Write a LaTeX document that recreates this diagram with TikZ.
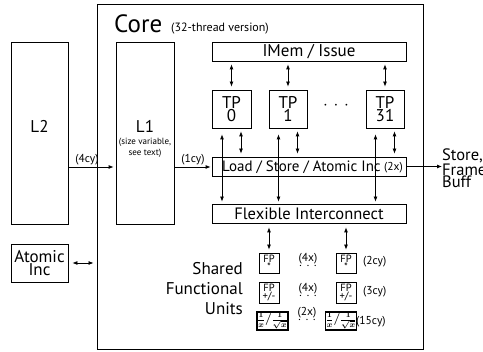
\documentclass[tikz,border=0pt]{standalone}
\usepackage{amsmath}
\usepackage{fontspec}
\setmainfont{PT Sans}
\usetikzlibrary{arrows.meta,calc}
\newcommand\fsL{\fontsize{17}{13}\selectfont}
\newcommand\fsC{\fontsize{25}{25}\selectfont}
\newcommand\fsM{\fontsize{11.5}{12}\selectfont}
\newcommand\fsS{\fontsize{9}{10.5}\selectfont}
\newcommand\fsF{\fontsize{10.5}{8}\selectfont}
\newcommand\fsX{\fontsize{11.5}{5.5}\selectfont}
\begin{document}
\begin{tikzpicture}[x=1pt,y=-1pt,
  blk/.style={draw, line width=0.8pt, inner sep=0pt},
  lbl/.style={inner sep=0pt},
  arr/.style={-{Latex[length=5pt,width=4pt]}, line width=0.8pt},
  darr/.style={{Latex[length=5pt,width=4pt]}-{Latex[length=5pt,width=4pt]}, line width=0.8pt},
  fpbox/.style={blk, minimum width=20pt, minimum height=20pt, align=center, font=\fsF},
  rcpbox/.style={draw, line width=1.4pt, inner sep=0pt, minimum width=29pt, minimum height=18pt, font=\fontsize{12}{12}\selectfont}]
\useasboundingbox (0,0) rectangle (483,352);
% boxes
\node[blk, line width=0.9pt, minimum width=326pt, minimum height=345pt] (core) at (260,176.5) {};
\node[blk, minimum width=57pt, minimum height=182pt] (l2) at (39.5,133) {};
\node[blk, minimum width=58pt, minimum height=182pt] (l1) at (145,133) {};
\node[blk, minimum width=57pt, minimum height=38pt, align=center, font=\fsL] (atomic) at (39.5,263) {Atomic\\Inc};
\node[blk, minimum width=194pt, minimum height=19pt, font=\fsL] (imem) at (309,51.5) {IMem / Issue};
\node[blk, minimum width=39pt, minimum height=38pt, align=center, font=\fsL] (tp0) at (231.5,109) {TP\\0};
\node[blk, minimum width=38pt, minimum height=38pt, align=center, font=\fsL] (tp1) at (288,109) {TP\\1};
\node[blk, minimum width=38pt, minimum height=38pt, align=center, font=\fsL] (tp31) at (385,109) {TP\\31};
\node[blk, minimum width=194pt, minimum height=19pt] (lsu) at (309,166.5) {};
\node[blk, minimum width=194pt, minimum height=19pt, font=\fontsize{16.5}{16}\selectfont] (flex) at (309,213.5) {Flexible Interconnect};
\node[fpbox] (fpm1) at (269,263) {FP\\*};
\node[fpbox] (fpm2) at (346,263) {FP\\*};
\node[fpbox, minimum height=21pt] (fpa1) at (269,292.5) {FP\\+/-};
\node[fpbox, minimum height=21pt] (fpa2) at (346,292.5) {FP\\+/-};
\node[rcpbox] (rcp1) at (272.5,321) {$\boldsymbol{\frac{1}{x}/\frac{1}{\sqrt{x}}}$};
\node[rcpbox] (rcp2) at (341,321) {$\boldsymbol{\frac{1}{x}/\frac{1}{\sqrt{x}}}$};
% texts
\node[lbl, anchor=base west, font=\fsC] (coretitle) at (114,33) {Core};
\node[lbl, anchor=base west, font=\fontsize{12}{12}\selectfont] (coresub) at (171,32) {(32-thread version)};
\node[lbl, anchor=base, font=\fsL] (l2t) at (39.5,133) {L2};
\node[lbl, anchor=base, font=\fsL] (l1t) at (145,133) {L1};
\node[lbl, align=center, font=\fsS] (l1note) at (145,148) {(size variable,\\see text)};
\node[lbl, anchor=base west, font=\fontsize{15}{15}\selectfont] (lsut) at (222,172) {Load / Store / Atomic Inc};
\node[lbl, anchor=base east, font=\fsM] (two) at (403,171) {(2x)};
\node[lbl, anchor=west, align=left, font=\fontsize{16.5}{12.5}\selectfont] (store) at (442,168) {Store,\\Frame\\Buff};
\node[lbl, anchor=east, align=right, font=\fontsize{17}{20}\selectfont] (sfu) at (243,289) {Shared\\Functional\\Units};
\node[lbl, font=\fsL] (tpdots) at (336,106) {$\cdot$\,\,$\cdot$\,\,$\cdot$};
\node[lbl, anchor=base, font=\fsM] (c4) at (87,163) {(4cy)};
\node[lbl, anchor=base, font=\fsM] (c1) at (193,163) {(1cy)};
\node[lbl, anchor=base west, font=\fsM] (c2) at (363,265) {(2cy)};
\node[lbl, anchor=base west, font=\fsM] (c3) at (363,295) {(3cy)};
\node[lbl, anchor=base west, font=\fsM] (c15) at (356,325) {(15cy)};
\node[lbl, align=center, font=\fsX] (x4a) at (308,260) {(4x)\\.\ \,.\ \,.};
\node[lbl, align=center, font=\fsX] (x4b) at (308,290) {(4x)\\.\ \,.\ \,.};
\node[lbl, align=center, font=\fsX] (x2) at (307,314) {(2x)\\.\ \,.\ \,.};
% connectors
\coordinate (io) at (0,167);
\draw[arr, shorten >=2pt] (l2.east |- io) -- (l1.west |- io);
\draw[arr, shorten >=1pt] (l1.east |- io) -- (lsu.west |- io);
\draw[arr] (lsu.east) -- (store.west |- lsu.east);
\draw[darr, shorten <=4pt, shorten >=3pt] (atomic.east) -- (core.west |- atomic.east);
\foreach \t in {tp0,tp1,tp31}{
  \coordinate (r\t) at ([xshift=9.5pt]\t.south);
  \coordinate (l\t) at ([xshift=-9.5pt]\t.south);
  \draw[darr, shorten <=3pt, shorten >=3pt] (r\t) -- (r\t |- lsu.north);
  \draw[darr, shorten <=6pt, shorten >=2pt] (l\t) -- (l\t |- flex.north);
  \draw[darr, shorten <=3pt, shorten >=3pt] (\t.north) -- (\t.north |- imem.south);
}
\draw[darr, shorten <=4pt, shorten >=3pt] (fpm1.north |- flex.south) -- (fpm1.north);
\draw[darr, shorten <=4pt, shorten >=3pt] (fpm2.north |- flex.south) -- (fpm2.north);
\end{tikzpicture}
\end{document}
